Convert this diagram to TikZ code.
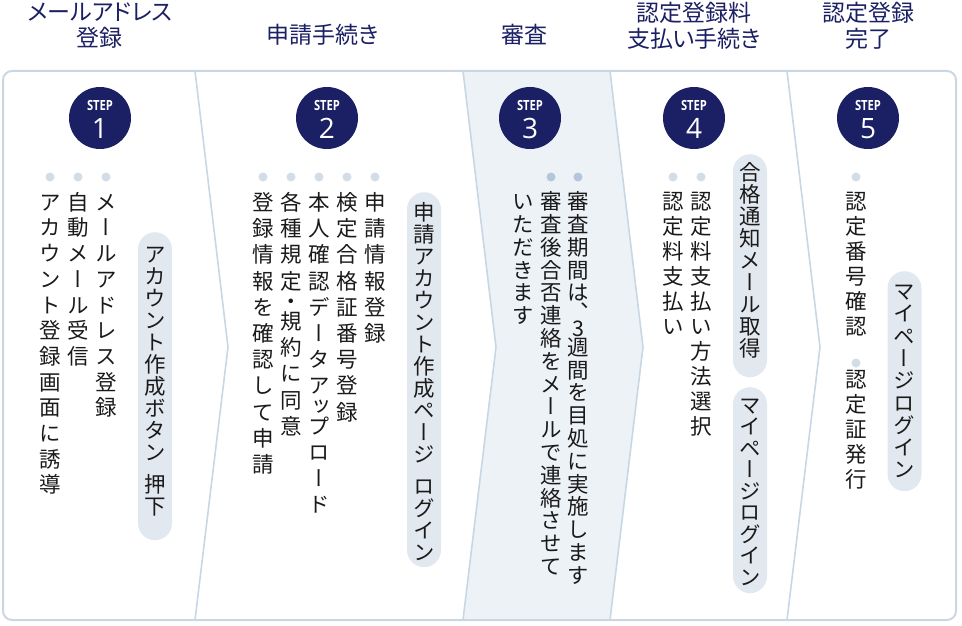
\documentclass[tikz,border=0pt]{standalone}
\usepackage{fontspec}
\newfontfamily\jpv[RawFeature=+vert]{Noto Sans CJK JP}
\newfontfamily\jph[RawFeature=+palt]{Noto Sans CJK JP}
\newfontfamily\stepf[FakeStretch=0.8]{Open Sans}
\newfontfamily\numf{Open Sans}
\definecolor{navy}{HTML}{1B1F63}
\definecolor{ink}{HTML}{1A1A1A}
\definecolor{outerc}{HTML}{CAD7E2}
\definecolor{chevc}{HTML}{C8D7E4}
\definecolor{shade3}{HTML}{EDF2F7}
\definecolor{pillc}{HTML}{E2E8F0}
\definecolor{bulc}{HTML}{D3DDE7}
\definecolor{bulc3}{HTML}{B3C6DC}
\makeatletter
\newdimen\vt@p \newdimen\vt@n \newdimen\vt@cur \newdimen\vt@gap
\vt@gap=10pt
\def\vt@stop{vt@stop}
\def\vsp{vsp}
\newcommand\vcol[3][0]{\vbox{\offinterlineskip\vt@p=#2pt\relax\vt@n=#1pt\relax\vt@loop#3\vt@stop}}
\def\vt@loop#1{%
  \ifx#1\vt@stop
    \expandafter\@gobble
  \else
    \expandafter\@firstofone
  \fi
  {\vt@do#1\vt@loop}}
\def\vt@chk#1#2{\ifx#1#2\advance\vt@cur-\vt@n\fi}
\def\vt@do#1{%
  \ifx#1\vsp
    \vskip\vt@gap
  \else
    \vt@cur=\vt@p
    \vt@chk#1ッ\vt@chk#1・\vt@chk#1、\vt@chk#13%
    \vbox to\vt@cur{\vss\hbox to1em{\hss\vrule height.88em depth.12em width0pt\relax#1\hss}\vss}%
  \fi}
\makeatother
\begin{document}
\begin{tikzpicture}[x=1pt,y=-1pt,
  hdr/.style={text=navy,align=center,inner sep=0,font=\jph\fontsize{23}{26}\selectfont},
  stepc/.style={circle,fill=navy,minimum size=62pt,inner sep=0},
  steplbl/.style={text=white,inner sep=0,font=\stepf\bfseries\fontsize{14}{14}\selectfont},
  stepnum/.style={text=white,inner sep=0,font=\numf\fontsize{28}{28}\selectfont},
  bul/.style={circle,fill=bulc,minimum size=9pt,inner sep=0},
  bulb/.style={bul,fill=bulc3},
  vt/.style={anchor=north,inner sep=0,text=ink,font=\jpv\fontsize{21.5}{21.5}\selectfont},
  pill/.style={fill=pillc,rounded corners=17pt,minimum width=34pt,inner sep=0,anchor=north},
  chev/.style={draw=chevc,line width=1.6pt},
  ]
\useasboundingbox (0,0) rectangle (962,626);
% shaded step-3 panel
\fill[shade3] (463,71) -- (496,347) -- (463,620) -- (610,620) -- (643,347) -- (610,71) -- cycle;
% chevron separators
\draw[chev] (195,71) -- (228,347) -- (195,620);
\draw[chev] (463,71) -- (496,347) -- (463,620);
\draw[chev] (610,71) -- (643,347) -- (610,620);
\draw[chev] (787,71) -- (820,347) -- (787,620);
% outer frame
\draw[draw=outerc,line width=2pt,rounded corners=9pt] (3,71) rectangle (956,620);
% headers
\node[hdr] (h1) at (100,26) {メールアドレス\\登録};
\node[hdr] (h2) at (323,35) {申請手続き};
\node[hdr] (h3) at (524,35) {審査};
\node[hdr] (h4) at (694,26) {認定登録料\\支払い手続き};
\node[hdr] (h5) at (868,26) {認定登録\\完了};
% step circles
\foreach \n/\x in {1/100,2/327,3/530,4/694,5/868}{
  \node[stepc] (s\n) at (\x,118) {};
  \node[steplbl] (sl\n) at (\x,105) {STEP};
  \node[stepnum] (sn\n) at (\x,128.5) {\n};
}
% bullets
\foreach \x [count=\i] in {50,78,106}{\node[bul] (b1\i) at (\x,177) {};}
\foreach \x [count=\i] in {263,291,319,347,375}{\node[bul] (b2\i) at (\x,177) {};}
\foreach \x [count=\i] in {551,578}{\node[bulb] (b3\i) at (\x,177) {};}
\foreach \x [count=\i] in {673,701}{\node[bul] (b4\i) at (\x,177) {};}
\node[bul] (b51) at (856,177) {};
\node[bul] (b52) at (856,363) {};
% panel 1 texts
\node[vt] (t11) at (106,189) {\vcol{25.7}{メールアドレス登録}};
\node[vt] (t12) at (78,189) {\vcol{25.7}{自動メール受信}};
\node[vt] (t13) at (50,189) {\vcol{25.7}{アカウント登録画面に誘導}};
% panel 2 texts
\node[vt] (t21) at (375,189) {\vcol[12]{26.2}{申請情報登録}};
\node[vt] (t22) at (347,189) {\vcol[12]{26.2}{検定合格証番号登録}};
\node[vt] (t23) at (319,189) {\vcol[12]{26.2}{本人確認データアップロード}};
\node[vt] (t24) at (291,189) {\vcol[12]{26.2}{各種規定・規約に同意}};
\node[vt] (t25) at (263,189) {\vcol[12]{26.2}{登録情報を確認して申請}};
% panel 3 texts
\node[vt] (t31) at (578,190) {\vcol[7]{22.8}{審査期間は、3週間を目処に実施します}};
\node[vt] (t32) at (551,190) {\vcol[7]{22.8}{審査後合否連絡をメールで連絡させて}};
\node[vt] (t33) at (523,190) {\vcol[7]{22.8}{いただきます}};
% panel 4 texts
\node[vt] (t41) at (701,189) {\vcol{25}{認定料支払い方法選択}};
\node[vt] (t42) at (673,189) {\vcol{25}{認定料支払い}};
% panel 5 texts
\node[vt] (t51) at (856,189) {\vcol{25}{認定番号確認}};
\node[vt] (t52) at (856,367) {\vcol{25}{認定証発行}};
% pills
\node[pill,minimum height=308pt] (p1) at (155,232) {};
\node[vt] (pt1) at (155,243) {\vcol{22}{アカウント作成ボタン\vsp 押下}};
\node[pill,minimum height=375pt] (p2) at (424,192) {};
\node[vt] (pt2) at (424,201.5) {\vcol{22}{申請アカウント作成ページ\vsp ログイン}};
\node[pill,minimum height=223pt] (p41) at (750,154) {};
\node[vt] (pt41) at (750,161.5) {\vcol{22}{合格通知メール取得}};
\node[pill,minimum height=206pt] (p42) at (750,387) {};
\node[vt] (pt42) at (750,394) {\vcol{21.5}{マイページログイン}};
\node[pill,minimum height=220pt] (p5) at (904.5,271) {};
\node[vt] (pt5) at (904.5,280) {\vcol{22.3}{マイページログイン}};
\end{tikzpicture}
\end{document}
